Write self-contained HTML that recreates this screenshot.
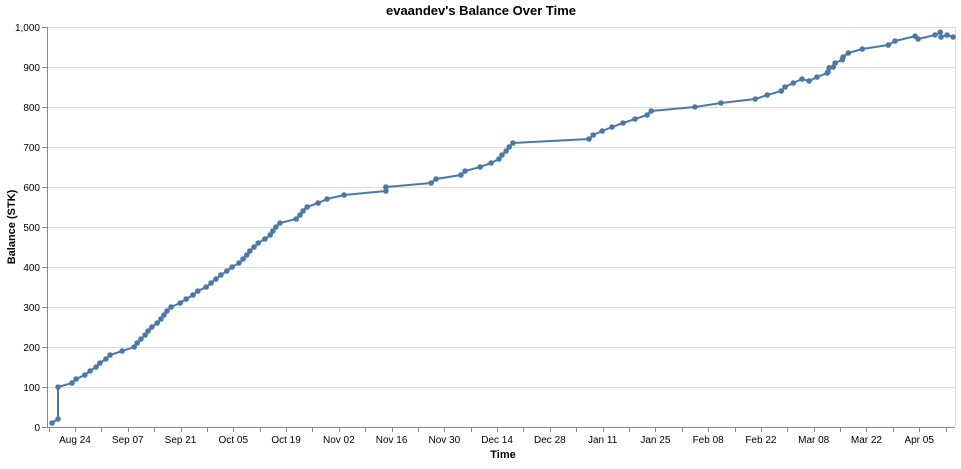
<!DOCTYPE html>
<html><head><meta charset="utf-8"><style>
body{margin:0;background:#fff;font-family:"Liberation Sans",Arial,sans-serif}
svg text{font-family:"Liberation Sans",Arial,sans-serif}
</style></head><body>
<svg id="chart" width="961" height="464" xmlns="http://www.w3.org/2000/svg">
<text x="481" y="15" text-anchor="middle" font-size="13" font-weight="bold" fill="#000">evaandev's Balance Over Time</text>
<g id="grid"></g>
<g id="xaxis"></g>
<g id="yaxis"></g>
<g id="marks"></g>
<text x="503" y="458" text-anchor="middle" font-size="11" font-weight="bold">Time</text>
<text transform="translate(15,227) rotate(-90)" text-anchor="middle" font-size="11" font-weight="bold">Balance (STK)</text>
</svg>
<script>
// days since 2025-08-24
const days=[-6.1,-4.5,-4.5,-0.8,0.3,2.6,4.0,5.6,6.6,8.2,9.3,12.5,15.7,16.5,17.5,18.6,19.4,20.4,21.8,22.8,23.6,24.4,25.5,27.9,29.5,31.3,32.6,34.8,36.1,37.4,38.7,40.3,41.7,43.5,44.6,45.6,46.4,47.5,48.6,50.4,51.8,52.5,53.3,54.4,58.7,59.7,60.5,61.6,64.5,66.9,71.4,82.5,82.5,94.5,95.8,102.4,103.5,107.5,110.4,112.5,113.3,114.4,115.2,116.2,136.4,137.5,139.9,142.5,145.4,148.6,151.8,152.9,164.5,171.4,180.5,183.7,187.4,188.4,190.6,192.9,194.8,196.9,199.6,199.8,200.1,201.2,201.7,203.6,203.8,205.2,208.9,215.8,217.6,222.9,223.7,228.2,229.6,229.8,231.4,233.0];
const balances=[10,20,100,110,120,130,140,150,160,170,180,190,200,210,220,230,240,250,260,270,280,290,300,310,320,330,340,350,360,370,380,390,400,410,420,430,440,450,460,470,480,490,500,510,520,530,540,550,560,570,580,590,600,610,620,630,640,650,660,670,680,690,700,710,720,730,740,750,760,770,780,790,800,810,820,830,840,850,860,870,865,875,885,888,898,900,910,918,925,935,945,955,965,977,970,980,987,975,980,975];
const yTicks=[0,100,200,300,400,500,600,700,800,900,1000];
const xLabels=["Aug 24","Sep 07","Sep 21","Oct 05","Oct 19","Nov 02","Nov 16","Nov 30","Dec 14","Dec 28","Jan 11","Jan 25","Feb 08","Feb 22","Mar 08","Mar 22","Apr 05"];
const X0=47,X1=955,Y0=427,Y1=27;
const dMin=-7.43,dMax=233.5;
const xs=d=>X0+(d-dMin)/(dMax-dMin)*(X1-X0);
const ys=v=>Y0+(v/1000)*(Y1-Y0);
const NS="http://www.w3.org/2000/svg";
function mk(t,a,p){const e=document.createElementNS(NS,t);for(const k in a)e.setAttribute(k,a[k]);p.appendChild(e);return e;}
const grid=document.getElementById('grid'),xa=document.getElementById('xaxis'),ya=document.getElementById('yaxis'),marks=document.getElementById('marks');
yTicks.forEach(v=>{
 const y=ys(v)+0.5;
 const g=mk('line',{x1:X0,x2:X1,y1:y,y2:y,stroke:'#ddd'},grid);
 
 
 mk('line',{x1:X0-5,x2:X0,y1:y,y2:y,stroke:'#888'},ya);
 const t=mk('text',{x:X0-7,y:y+3.5,'text-anchor':'end','font-size':10,fill:'#000'},ya);
 t.textContent=v.toLocaleString('en-US');
 
 
});
mk('line',{x1:X1+0.5,x2:X1+0.5,y1:Y1,y2:Y0,stroke:'#ddd'},grid);
mk('line',{x1:X0+0.5,x2:X0+0.5,y1:Y1,y2:Y0,stroke:'#888'},ya);
mk('line',{x1:X0,x2:X1,y1:Y0+0.5,y2:Y0+0.5,stroke:'#888'},xa);
for(let d=-7;d<=dMax;d+=7){
 const x=Math.round(xs(d))+0.5;
 mk('line',{x1:x,x2:x,y1:Y0,y2:Y0+5,stroke:'#888'},xa);
}
xLabels.forEach((l,i)=>{
 const t=mk('text',{x:xs(i*14),y:Y0+16,'text-anchor':'middle','font-size':10,fill:'#000'},xa);
 t.textContent=l;
 
 
});
const pts=days.map((d,i)=>xs(d).toFixed(1)+','+ys(balances[i]).toFixed(1)).join(' ');
const line=mk('polyline',{points:pts,fill:'none',stroke:'#4c78a8','stroke-width':2},marks);


days.forEach((d,i)=>{
 const c=mk('circle',{cx:xs(d),cy:ys(balances[i]),r:2.8,fill:'#4c78a8'},marks);
 
 
});
</script>
</body></html>
